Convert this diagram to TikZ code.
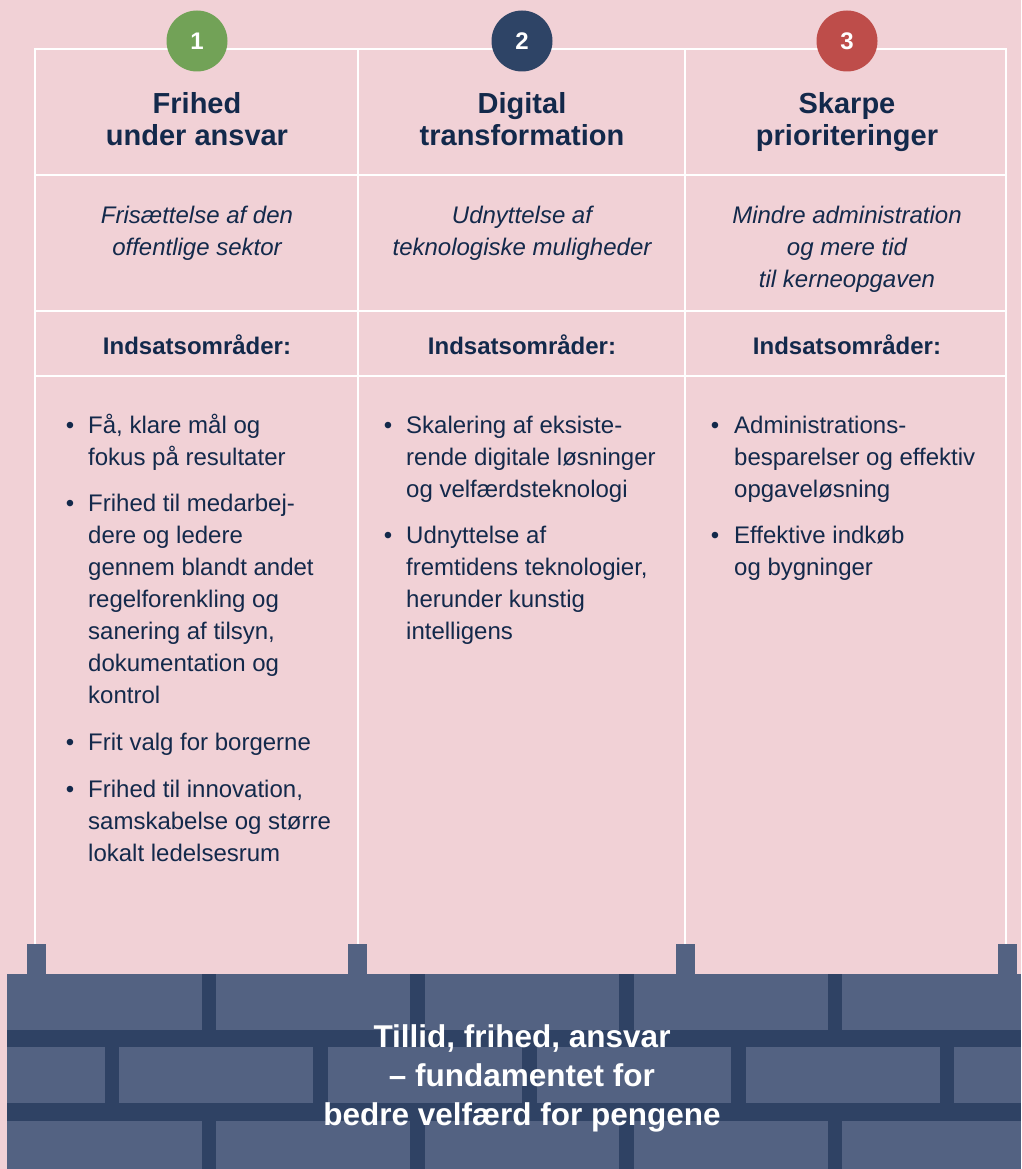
\documentclass[tikz,border=0pt]{standalone}
\usepackage{fontspec}
\setmainfont{Liberation Sans}
\usepackage{xcolor}
\usepackage{tikz}

\definecolor{pinkbg}{HTML}{F1D1D6}
\definecolor{inktxt}{HTML}{13294B}
\definecolor{mortar}{HTML}{2F4264}
\definecolor{brick}{HTML}{536282}
\definecolor{numgreen}{HTML}{72A257}
\definecolor{numnavy}{HTML}{2E4466}
\definecolor{numred}{HTML}{BE4D4A}

\begin{document}
\begin{tikzpicture}[x=1pt,y=-1pt,
                    grid/.style={white,line width=2.5pt},
                    numc/.style={circle,fill=#1,minimum size=61pt,inner sep=0pt,
                    text=white,font=\fontsize{24}{28}\selectfont\bfseries},
                    ttl/.style={anchor=base,align=center,text=inktxt,inner sep=0pt,
                    font=\fontsize{29}{32}\selectfont\bfseries},
                    sub/.style={anchor=base,align=center,text=inktxt,inner sep=0pt,
                    font=\fontsize{24}{32}\selectfont\itshape},
                    hd/.style={anchor=base,text=inktxt,inner sep=0pt,
                    font=\fontsize{24}{32}\selectfont\bfseries},
                    itm/.style={anchor=base west,align=left,text=inktxt,inner sep=0pt,
                    font=\fontsize{24}{32}\selectfont},
                    bul/.style={anchor=base,text=inktxt,inner sep=0pt,
                    font=\fontsize{24}{32}\selectfont},
                    tab/.style={fill=brick}]
    \useasboundingbox[fill=pinkbg] (0,0) rectangle (1021,1169);

    % grid of the three columns
    \draw[grid] (35,944) -- (35,49) -- (1006,49) -- (1006,944);
    \foreach \gx in {358,685}
        \draw[grid] (\gx,49) -- (\gx,944);
    \foreach \gy in {175,311,376}
        \draw[grid] (35,\gy) -- (1006,\gy);

    % numbers
    \node[numc=numgreen](n1) at (197,41) {1};
    \node[numc=numnavy](n2) at (522,41) {2};
    \node[numc=numred](n3) at (847,41) {3};

    % titles (base = last line)
    \node[ttl](t1) at (197,146) {Frihed\\under ansvar};
    \node[ttl](t2) at (522,146) {Digital\\transformation};
    \node[ttl](t3) at (847,146) {Skarpe\\prioriteringer};

    \node[sub](s1) at (197,255) {Frisættelse af den\\offentlige sektor};
    \node[sub](s2) at (522,255) {Udnyttelse af\\teknologiske muligheder};
    \node[sub](s3) at (847,287) {Mindre administration\\og mere tid\\til kerneopgaven};

    \foreach \hx/\hn in {197/h1,522/h2,847/h3}
        \node[hd](\hn) at (\hx,354) {Indsatsområder:};

    % column 1
    \node[bul](b1a) at (70,433) {•};
    \node[itm](i1a) at (88,465) {Få, klare mål og\\fokus på resultater};
    \node[bul](b1b) at (70,511) {•};
    \node[itm](i1b) at (88,703) {Frihed til medarbej-\\dere og ledere\\gennem blandt andet\\regelforenkling og\\sanering af tilsyn,\\dokumentation og\\kontrol};
    \node[bul](b1c) at (70,750) {•};
    \node[itm](i1c) at (88,750) {Frit valg for borgerne};
    \node[bul](b1d) at (70,797) {•};
    \node[itm](i1d) at (88,861) {Frihed til innovation,\\samskabelse og større\\lokalt ledelsesrum};

    % column 2
    \node[bul](b2a) at (388,433) {•};
    \node[itm](i2a) at (406,497) {Skalering af eksiste-\\rende digitale løsninger\\og velfærdsteknologi};
    \node[bul](b2b) at (388,543) {•};
    \node[itm](i2b) at (406,639) {Udnyttelse af\\fremtidens teknologier,\\herunder kunstig\\intelligens};

    % column 3
    \node[bul](b3a) at (715,433) {•};
    \node[itm](i3a) at (734,497) {Administrations-\\besparelser og effektiv\\opgaveløsning};
    \node[bul](b3b) at (715,543) {•};
    \node[itm](i3b) at (734,575) {Effektive indkøb\\og bygninger};

    % the wall
    \foreach \tx in {27,348,676,998}
        \fill[tab] (\tx,944) rectangle ++(19,31);
    \fill[mortar] (7,974) rectangle (1021,1169);
    \foreach \ya/\yb in {974/1030,1121/1169}
        \foreach \xa/\xb in {7/202,216/410,425/619,634/828,842/1021}
            \fill[brick] (\xa,\ya) rectangle (\xb,\yb);
    \foreach \xa/\xb in {7/105,119/313,328/522,537/731,746/940,954/1021}
        \fill[brick] (\xa,1047) rectangle (\xb,1103);

    \node[anchor=base,align=center,text=white,inner sep=0pt,
          font=\fontsize{31.5}{39}\selectfont\bfseries](wall) at (522,1125)
          {Tillid, frihed, ansvar\\– fundamentet for\\bedre velfærd for pengene};
\end{tikzpicture}
\end{document}
